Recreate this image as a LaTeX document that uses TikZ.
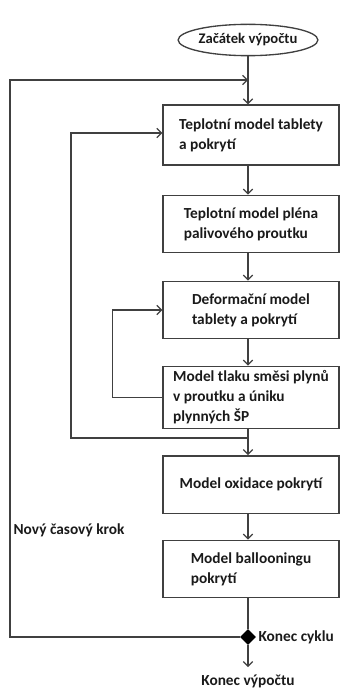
\documentclass[tikz,border=0pt]{standalone}
\usepackage{fontspec}
\setmainfont{Carlito}
\usetikzlibrary{arrows.meta, shapes.geometric}
\definecolor{linka}{HTML}{404040}
\definecolor{pismo}{HTML}{1A1A1A}

\begin{document}
\begin{tikzpicture}[x=0.75pt, y=-0.75pt,
  font=\bfseries\fontsize{11.5pt}{15pt}\selectfont, text=pismo,
  blok/.style={draw=linka, line width=1pt, fill=white, minimum width=132pt,
    minimum height=43pt, align=left},
  sip/.style={draw=linka, line width=0.9pt, -{Straight Barb[length=3.5pt,width=7pt]}},
  cara/.style={draw=linka, line width=0.9pt}]
\useasboundingbox (0,0) rectangle (340,695);
% start
\node[ellipse, draw=linka, line width=1pt, minimum width=88pt, minimum height=23.5pt,
  inner sep=0pt, font=\bfseries\fontsize{11pt}{13pt}\selectfont] (start) at (248,40) {Začátek výpočtu};
% bloky modelu
\node[blok, minimum height=45pt] (b1) at (251,135) {Teplotní model tablety\\a pokrytí};
\node[blok] (b2) at (251,224) {Teplotní model pléna\\palivového proutku};
\node[blok] (b3) at (251,310) {Deformační model\\tablety a pokrytí};
\node[blok, minimum height=44pt] (b4) at (251,397.5) {Model tlaku směsi plynů\\v proutku a úniku\\plynných ŠP};
\node[blok] (b5) at (251,484.5) {Model oxidace pokrytí};
\node[blok] (b6) at (251,569) {Model ballooningu\\pokrytí};
% konec cyklu
\node[diamond, fill=black, minimum size=12pt, inner sep=0pt] (konec) at (248,637) {};
\node[anchor=west, inner sep=1pt] (cyklus) at (257,637) {Konec cyklu};
\node[anchor=north, inner xsep=1pt, inner ysep=6pt] (konecv) at (248,667) {Konec výpočtu};
\node[anchor=west, inner sep=1pt] (krok) at (12,530) {Nový časový krok};
% pomocne body
\coordinate (vstup) at (248,80);
\coordinate (vlevo) at (10,80);
\coordinate (uzel) at (248,438);
\coordinate (vlevo2) at (71,133);
% spojnice
\draw[cara] (start) -- (vstup);
\draw[sip] (vstup) -- (b1.north -| vstup);
\draw[sip] (b1.south -| vstup) -- (b2.north -| vstup);
\draw[sip] (b2.south -| vstup) -- (b3.north -| vstup);
\draw[sip] (b3.south -| vstup) -- (b4.north -| vstup);
\draw[cara] (b4.south -| uzel) -- (uzel);
\draw[sip] (uzel) -- (b5.north -| uzel);
\draw[sip] (b5.south -| vstup) -- (b6.north -| vstup);
\draw[cara] (b6.south -| vstup) -- (konec);
\draw[sip] (konec) -- (konecv);
% smycky
\draw[sip] (konec.west) -| (vlevo) -- (vstup);
\draw[sip] (uzel) -| (vlevo2) -- (vlevo2 -| b1.west);
\draw[sip] (b4.west) -- ++(-50,0) |- (b3.west);
\end{tikzpicture}
\end{document}
